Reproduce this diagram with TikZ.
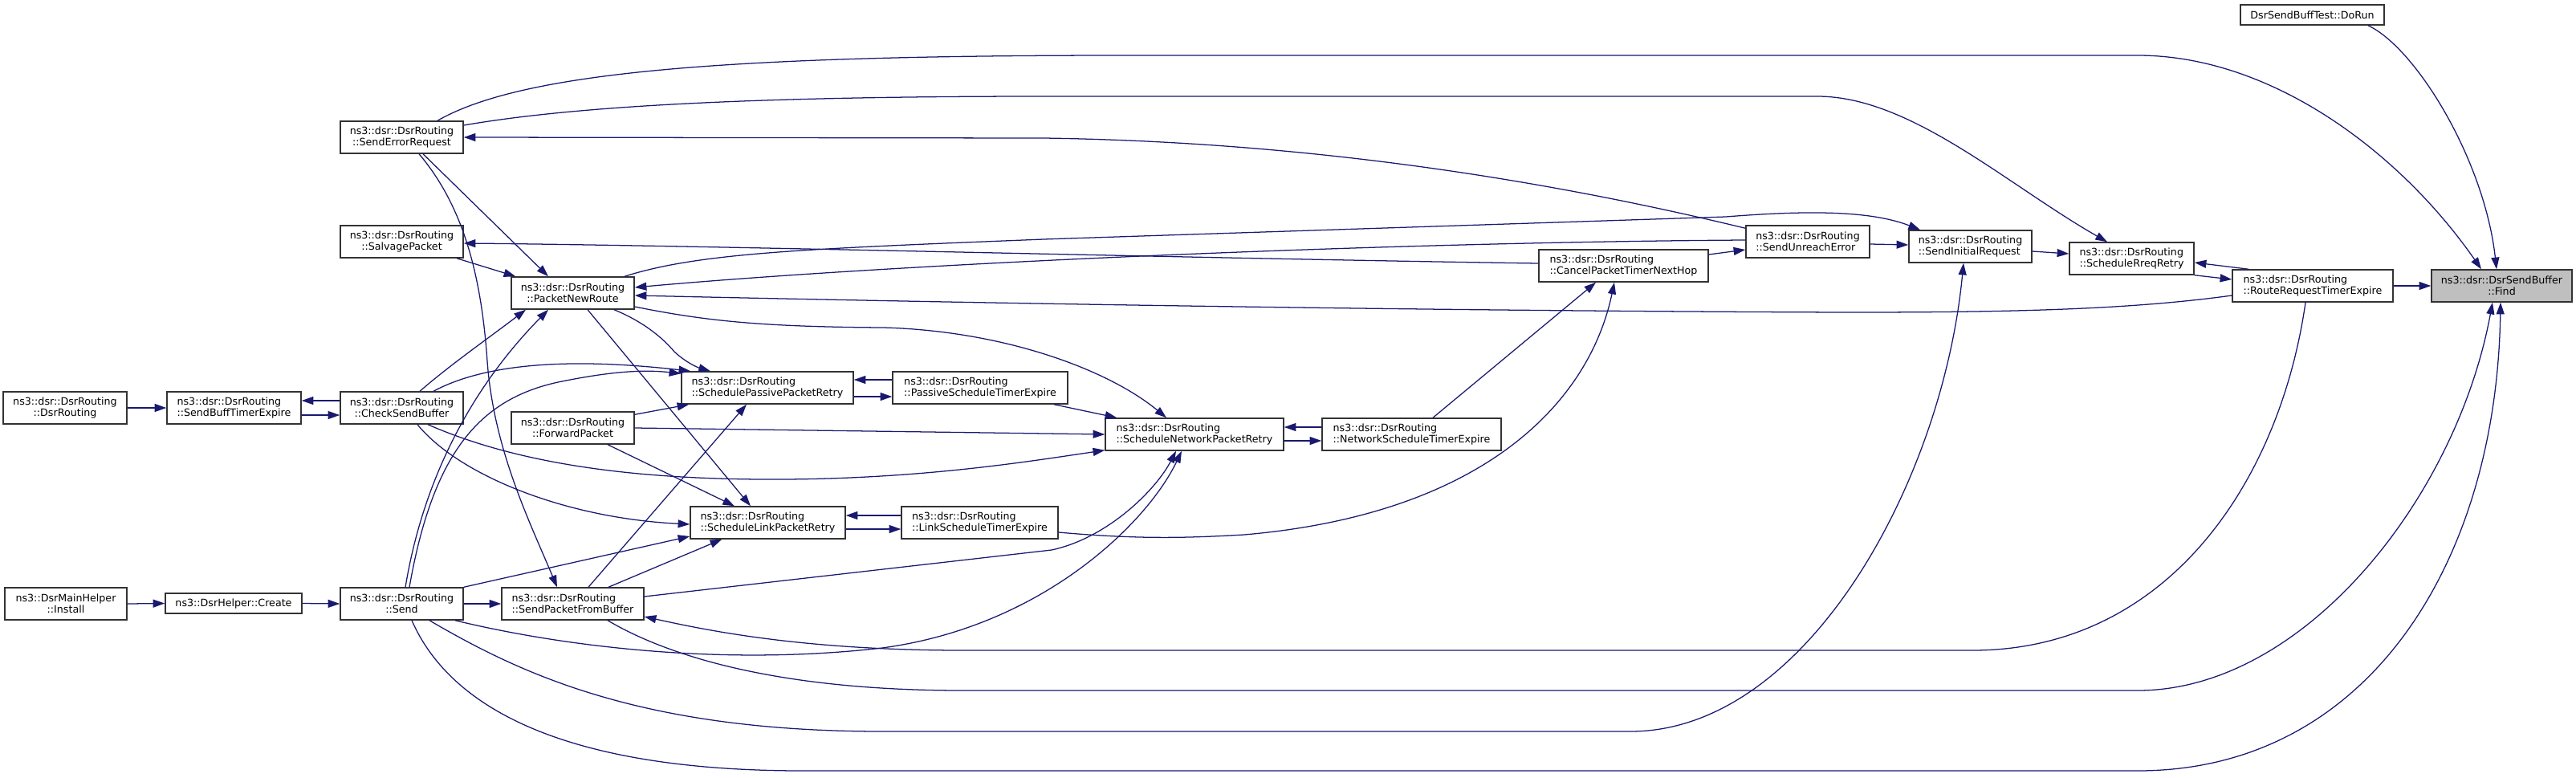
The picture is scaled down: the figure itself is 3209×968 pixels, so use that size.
\documentclass[tikz,border=0pt]{standalone}
\usepackage{fontspec}
\setmainfont{DejaVu Sans}
\usetikzlibrary{arrows.meta,calc}
\definecolor{edgeblue}{HTML}{191970}
\definecolor{boxline}{HTML}{333333}
\definecolor{findfill}{HTML}{BFBFBF}
\begin{document}
\begin{tikzpicture}[x=0.75pt,y=-0.75pt,
  fnbase/.style={draw=boxline, line width=1.1pt, fill=white, inner sep=0pt,
    font=\fontsize{9.5}{10.8}\selectfont, minimum height=30pt},
  fnc/.style={fnbase, align=center},
  fnl/.style={fnbase, align=left},
  cl/.style={draw=edgeblue, line width=0.95pt, -{Triangle[length=11pt,width=7.5pt]}}]
\useasboundingbox (0,0) rectangle (3209,968);
% nodes
\node[fnc, minimum width=131.25pt, fill=findfill] (find) at (3116.5,356) {ns3::dsr::DsrSendBuffer\\::Find};
\node[fnc, minimum width=134.25pt, minimum height=18.75pt] (dorun) at (2880.5,18.5) {DsrSendBuffTest::DoRun};
\node[fnl, minimum width=150pt] (rrte) at (2881,356) {ns3::dsr::DsrRouting\\::RouteRequestTimerExpire};
\node[fnl, minimum width=116.25pt] (srr) at (2655.5,322) {ns3::dsr::DsrRouting\\::ScheduleRreqRetry};
\node[fnl, minimum width=114.75pt] (sir) at (2454.5,307) {ns3::dsr::DsrRouting\\::SendInitialRequest};
\node[fnl, minimum width=115.5pt] (sue) at (2252,301) {ns3::dsr::DsrRouting\\::SendUnreachError};
\node[fnl, minimum width=158.25pt] (cpt) at (2022.5,331) {ns3::dsr::DsrRouting\\::CancelPacketTimerNextHop};
\node[fnl, minimum width=167.25pt] (nste) at (1758.5,541) {ns3::dsr::DsrRouting\\::NetworkScheduleTimerExpire};
\node[fnl, minimum width=166.5pt] (snpr) at (1488,541) {ns3::dsr::DsrRouting\\::ScheduleNetworkPacketRetry};
\node[fnl, minimum width=163.5pt] (pste) at (1221,483) {ns3::dsr::DsrRouting\\::PassiveScheduleTimerExpire};
\node[fnl, minimum width=146.25pt] (lste) at (1220.5,651) {ns3::dsr::DsrRouting\\::LinkScheduleTimerExpire};
\node[fnl, minimum width=160.5pt] (sppr) at (956,483) {ns3::dsr::DsrRouting\\::SchedulePassivePacketRetry};
\node[fnl, minimum width=144.75pt] (slpr) at (956.5,651) {ns3::dsr::DsrRouting\\::ScheduleLinkPacketRetry};
\node[fnc, minimum width=114.75pt] (pnr) at (713.5,365) {ns3::dsr::DsrRouting\\::PacketNewRoute};
\node[fnc, minimum width=114.75pt] (fwd) at (713.5,533) {ns3::dsr::DsrRouting\\::ForwardPacket};
\node[fnl, minimum width=132.75pt] (spfb) at (713.5,752) {ns3::dsr::DsrRouting\\::SendPacketFromBuffer};
\node[fnc, minimum width=114.75pt] (ser) at (500.5,171) {ns3::dsr::DsrRouting\\::SendErrorRequest};
\node[fnc, minimum width=114.75pt] (salv) at (500.5,301) {ns3::dsr::DsrRouting\\::SalvagePacket};
\node[fnc, minimum width=114.75pt] (csb) at (500.5,508) {ns3::dsr::DsrRouting\\::CheckSendBuffer};
\node[fnc, minimum width=114.75pt] (send) at (500.5,752) {ns3::dsr::DsrRouting\\::Send};
\node[fnl, minimum width=125.25pt] (sbte) at (291.5,508) {ns3::dsr::DsrRouting\\::SendBuffTimerExpire};
\node[fnc, minimum width=127.5pt, minimum height=18.75pt] (create) at (291,751.5) {ns3::DsrHelper::Create};
\node[fnc, minimum width=115.5pt] (dsrr) at (81,508) {ns3::dsr::DsrRouting\\::DsrRouting};
\node[fnc, minimum width=114pt] (install) at (82,752) {ns3::DsrMainHelper\\::Install};
% edges into Find
\draw[cl] (rrte.east) -- (find.west);
\draw[cl] ($(dorun.south)+(69.5,0)$) .. controls (3010,60) and (3095,200) .. ($(find.north)+(-6.5,0)$);
\draw[cl] ($(ser.north)+(44.5,0)$) .. controls (650,90) and (900,69) .. (1400,69) -- (2663,69) .. controls (2830,69) and (2990,190) .. ($(find.north)+(-25.5,0)$);
\draw[cl] ($(spfb.south)+(43.5,0)$) .. controls (820,810) and (950,860) .. (1200,860) -- (2663,860) .. controls (2870,860) and (3060,620) .. ($(find.south)+(-11.5,0)$);
\draw[cl] ($(send.south)+(12.5,0)$) .. controls (560,880) and (700,960) .. (1000,960) -- (2663,960) .. controls (2950,960) and (3110,700) .. ($(find.south)+(-1.5,0)$);
% right cluster
\draw[cl] (srr.south east) -- ($(rrte.west)+(0,-8)$);
\draw[cl] ($(rrte.north west)+(21,0)$) -- ($(srr.east)+(0,5)$);
\draw[cl] ($(sir.east)+(0,6)$) -- ($(srr.west)+(0,-6)$);
\draw[cl] ($(sue.east)+(0,3)$) -- ($(sir.west)+(0,-2)$);
\draw[cl] ($(cpt.east)+(0,-14)$) -- ($(sue.west)+(0,10)$);
\draw[cl] ($(ser.east)+(0,-15)$) .. controls (700,135) and (900,120) .. (1300,120) -- (2264,120) .. controls (2380,120) and (2500,230) .. ($(srr.north)+(-30.5,0)$);
\draw[cl] ($(sue.north west)+(0,4)$) .. controls (1950,230) and (1650,177) .. (1300,172) -- (ser.east);
\draw[cl] ($(pnr.north)+(64.5,0)$) .. controls (870,315) and (1000,310) .. (1300,298) -- (2150,270) .. controls (2250,262) and (2330,262) .. ($(sir.north)+(-62.5,0)$);
\draw[cl] ($(sue.west)+(0,-2)$) .. controls (1700,302) and (1100,330) .. ($(pnr.east)+(0,-7)$);
\draw[cl] ($(cpt.west)+(0,-3)$) .. controls (1500,322) and (900,306) .. ($(salv.east)+(0,2)$);
\draw[cl] ($(rrte.west)+(0,12)$) .. controls (2650,386) and (2500,389) .. (2300,389) .. controls (1700,387) and (1100,375) .. ($(pnr.east)+(0,3)$);
\draw[cl] ($(rrte.south)+(-9,0)$) .. controls (2840,600) and (2700,810) .. (2457,810) -- (1200,810) .. controls (1000,810) and (880,785) .. ($(spfb.east)+(0,16)$);
\draw[cl] ($(send.south)+(34.5,0)$) .. controls (650,840) and (800,911) .. (1100,911) -- (2031,911) .. controls (2250,911) and (2420,600) .. ($(sir.south)+(-8.5,0)$);
\draw[cl] ($(nste.north)+(26.5,0)$) -- ($(cpt.south)+(-34.5,0)$);
\draw[cl] ($(lste.east)+(0,12)$) .. controls (1420,672) and (1480,670) .. (1550,666) .. controls (1850,640) and (1980,500) .. ($(cpt.south)+(-11.5,0)$);
% middle cluster
\draw[cl] ($(snpr.east)+(0,8)$) -- ($(nste.west)+(0,8)$);
\draw[cl] ($(nste.west)+(0,-9)$) -- ($(snpr.east)+(0,-9)$);
\draw[cl] ($(sppr.east)+(0,11)$) -- ($(pste.west)+(0,11)$);
\draw[cl] ($(pste.west)+(0,-10)$) -- ($(sppr.east)+(0,-10)$);
\draw[cl] ($(slpr.east)+(0,8)$) -- ($(lste.west)+(0,8)$);
\draw[cl] ($(lste.west)+(0,-9)$) -- ($(slpr.east)+(0,-9)$);
\draw[cl] ($(pste.south)+(92,0)$) -- ($(snpr.north west)+(15,0)$);
\draw[cl] ($(pnr.east)+(0,17)$) .. controls (880,400) and (950,407) .. (1100,408) .. controls (1250,412) and (1380,460) .. ($(snpr.north)+(-35,0)$);
\draw[cl] (fwd.east) -- (snpr.west);
\draw[cl] ($(csb.south)+(32.5,0)$) .. controls (650,580) and (800,598) .. (976,597) .. controls (1150,596) and (1280,575) .. ($(snpr.south west)+(0,-1)$);
\draw[cl] ($(spfb.east)+(0,-9)$) -- (1310,685) .. controls (1380,670) and (1440,610) .. ($(snpr.south)+(-23,0)$);
\draw[cl] ($(send.south)+(66.5,0)$) .. controls (700,805) and (900,830) .. (1099,807) .. controls (1300,780) and (1430,650) .. ($(snpr.south)+(-16,0)$);
\draw[cl] ($(pnr.south)+(51.5,0)$) .. controls (800,400) and (825,420) .. (840,438) .. controls (855,452) and (870,458) .. ($(sppr.north)+(-71,0)$);
\draw[cl] ($(csb.north)+(39.5,0)$) .. controls (600,455) and (700,444) .. ($(sppr.north west)+(12,0)$);
\draw[cl] ($(send.north)+(9.5,0)$) .. controls (540,560) and (600,495) .. (700,475) .. controls (760,463) and (800,460) .. ($(sppr.north west)+(0,3)$);
\draw[cl] ($(csb.north)+(22.5,0)$) .. controls (560,455) and (610,420) .. ($(pnr.south)+(-58.5,0)$);
\draw[cl] ($(send.north)+(4.5,0)$) .. controls (530,580) and (600,470) .. ($(pnr.south)+(-30.5,0)$);
\draw[cl] ($(ser.south)+(26.5,0)$) -- ($(pnr.north)+(-30.5,0)$);
\draw[cl] ($(salv.south)+(68.5,0)$) -- ($(pnr.north west)+(6,0)$);
\draw[cl] ($(ser.south)+(21.5,0)$) .. controls (580,260) and (600,350) .. (607,450) .. controls (615,560) and (660,650) .. ($(spfb.north)+(-19.5,0)$);
\draw[cl] (send.east) -- (spfb.west);
\draw[cl] ($(fwd.north east)+(0,4)$) -- ($(sppr.south west)+(10,0)$);
\draw[cl] ($(spfb.north)+(19.5,0)$) -- ($(sppr.south)+(-26,0)$);
\draw[cl] ($(pnr.south)+(18.5,0)$) -- ($(slpr.north)+(-21.5,0)$);
\draw[cl] ($(fwd.south)+(43.5,0)$) -- ($(slpr.north)+(-41.5,0)$);
\draw[cl] ($(csb.south)+(19.5,0)$) .. controls (570,590) and (700,645) .. ($(slpr.west)+(0,2)$);
\draw[cl] (send.north east) -- ($(slpr.west)+(0,17)$);
\draw[cl] ($(spfb.north)+(44.5,0)$) -- ($(slpr.south west)+(40,0)$);
% left cluster
\draw[cl] ($(csb.west)+(0,-9)$) -- ($(sbte.east)+(0,-9)$);
\draw[cl] ($(sbte.east)+(0,9)$) -- ($(csb.west)+(0,9)$);
\draw[cl] (dsrr.east) -- (sbte.west);
\draw[cl] (install.east) -- (create.west);
\draw[cl] (create.east) -- (send.west);
\end{tikzpicture}
\end{document}
